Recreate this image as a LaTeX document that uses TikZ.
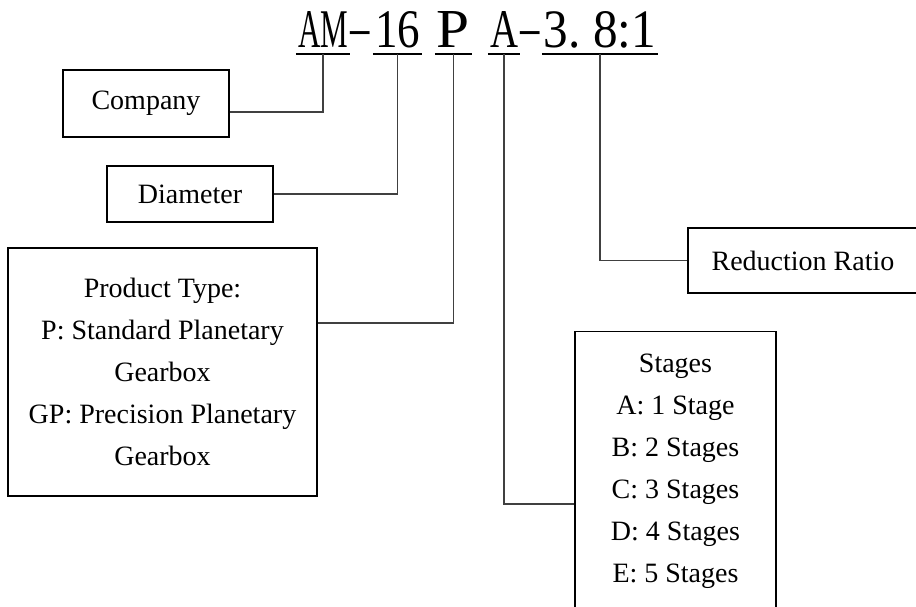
\documentclass[tikz,border=0pt]{standalone}
\usepackage{fontspec}
\setmainfont{Liberation Serif}
\usetikzlibrary{positioning,calc}
\tikzset{
box/.style = {draw, line width=1.5pt, rectangle, inner sep=0pt, align=center, font=\fontsize{28}{42}\selectfont},
code/.style = {anchor=base, inner sep=0pt},
under/.style = {line width=1.5pt, shorten <=-2pt, shorten >=-2pt},
link/.style = {draw=black!75, line width=1.1pt}
}
\newcommand{\codepart}[2]{\resizebox{#1}{36pt}{#2}}
\newcommand{\codedash}{\fontsize{40}{40}\selectfont\scalebox{1.9}[1]{-}}

\begin{document}
\begin{tikzpicture}[x=1pt, y=-1pt]
  \useasboundingbox (0,0) rectangle (916,607);
  \clip (0,0) rectangle (916,607);

  % model code
  \node [code] (am)    at (323,48)   {\codepart{50pt}{AM}};
  \node [code] (dasha) at (360,43)   {\codedash};
  \node [code] (dia)   at (397.5,48) {\codepart{45pt}{16}};
  \node [code] (typ)   at (453.5,48) {\codepart{33pt}{P}};
  \node [code] (stg)   at (504,48)   {\codepart{28pt}{A}};
  \node [code] (dashb) at (530,43)   {\codedash};
  \node [code] (rat)   at (600,48)   {\codepart{112pt}{3.\ 8:1}};

  \foreach \part in {am, dia, typ, stg, rat}
    \draw [under] ([yshift=-6pt]\part.base west) -- ([yshift=-6pt]\part.base east);

  % boxes
  \node [box, minimum width=166pt, minimum height=67pt]  (company)  at (146,103.5)   {Company};
  \node [box, minimum width=166pt, minimum height=56pt]  (diameter) at (190,194)     {Diameter};
  \node [box, minimum width=309pt, minimum height=248pt] (product)  at (162.5,372)   {Product Type:\\P: Standard Planetary\\Gearbox\\GP: Precision Planetary\\Gearbox};
  \node [box, minimum width=230pt, minimum height=65pt]  (ratio)    at (803,260.5)   {Reduction Ratio};
  \node [box, minimum width=201pt, minimum height=280pt] (stages)   at (675.5,471.5) {Stages\\A: 1 Stage\\B: 2 Stages\\C: 3 Stages\\D: 4 Stages\\E: 5 Stages};

  \draw [link] ([yshift=-6pt]am.base)  |- ([yshift=-8.5pt]company.east);
  \draw [link] ([yshift=-6pt]dia.base) |- (diameter.east);
  \draw [link] ([yshift=-6pt]typ.base) |- ([yshift=49pt]product.east);
  \draw [link] ([yshift=-6pt]stg.base) |- ([yshift=-32.5pt]stages.west);
  \draw [link] ([yshift=-6pt]rat.base) |- (ratio.west);
\end{tikzpicture}
\end{document}
